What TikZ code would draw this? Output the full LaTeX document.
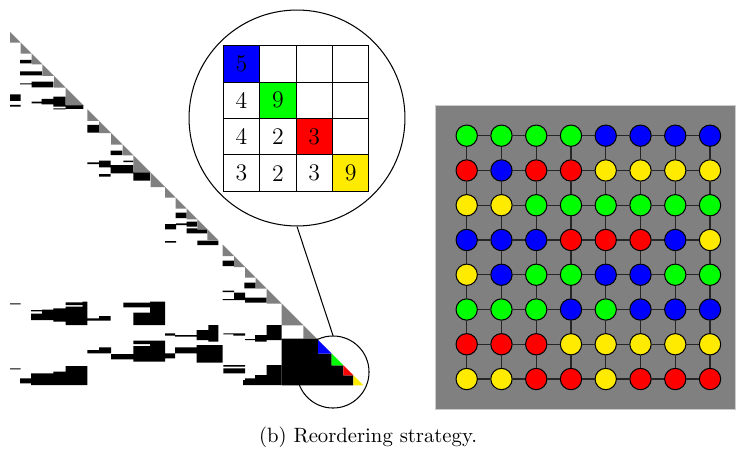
\documentclass[tikz,border=0pt]{standalone}
\definecolor{cG}{RGB}{0,255,0}
\definecolor{cB}{RGB}{0,0,255}
\definecolor{cR}{RGB}{255,0,0}
\definecolor{cY}{RGB}{255,235,0}

\tikzset{
  vtx/.style={circle, draw=black, line width=0.5pt, minimum size=10.3pt, inner sep=0pt},
  edge/.style={line width=0.6pt, black!85},
  cell/.style={draw, line width=0.5pt, minimum size=17.6pt, inner sep=0pt, font=\fontsize{11.5}{13}\selectfont},
  lens/.style={circle, draw, line width=0.5pt, inner sep=0pt},
}

\begin{document}
\begin{tikzpicture}[x=0.483pt, y=-0.483pt]
\useasboundingbox (0,0) rectangle (736,452);

%Draw Sparse Factor
\fill[black] (20,60) rectangle (31.7,63.5) (20,71.5) rectangle (42,75.5)
  (20,83.3) rectangle (31.7,84.3) (31.7,81.7) rectangle (53.3,87.3)
  (10,94.3) rectangle (20.7,101) (10,105) rectangle (20.7,106.7)
  (31.7,101.7) rectangle (41.7,103.3) (41.7,99) rectangle (53.3,104.3)
  (53.3,96.7) rectangle (65.7,106.7) (53.3,108.3) rectangle (65.7,109.3)
  (65.7,105) rectangle (83.3,109) (87.3,125) rectangle (99,132.7)
  (110.7,150.7) rectangle (122.3,155) (87.3,162.3) rectangle (99,164)
  (99,160.7) rectangle (110.7,167.3) (123.3,160.7) rectangle (133.3,162)
  (110.7,165) rectangle (133.3,173.3) (99,174) rectangle (110.7,176.7)
  (133.3,171.7) rectangle (150,180.7) (175.7,212.7) rectangle (186.7,218)
  (165,224) rectangle (176,229.3) (176,223.3) rectangle (186.7,225)
  (186.7,221.7) rectangle (197.3,226.7) (186.7,228.3) rectangle (197.3,233.3)
  (197.3,229.3) rectangle (207.3,233.3) (165,241) rectangle (176,242.7)
  (197.3,240.7) rectangle (218.3,245) (222.7,260.7) rectangle (234,266)
  (244.3,282.7) rectangle (255.7,288.3) (222.7,290.7) rectangle (234,292)
  (222.7,299) rectangle (234,300) (234,292.7) rectangle (245,300)
  (245,297.7) rectangle (266.7,302.7);
\fill[black] (10,303.3) rectangle (20.7,304.3) (65.7,302.3) rectangle (87.3,305)
  (82.7,301.7) rectangle (87.3,325) (31,313.5) rectangle (53.3,320)
  (31,310) rectangle (42,311.3) (42,309.5) rectangle (53.3,313.5)
  (53.3,308.3) rectangle (65.7,321.7) (65.7,306.7) rectangle (87.3,325)
  (87.3,318.3) rectangle (99,320.7) (99,316) rectangle (110.7,320.7)
  (123.3,302.7) rectangle (150,307.3) (150,301.7) rectangle (165,325)
  (133.3,312.7) rectangle (150,325) (165,333.3) rectangle (175,335.7)
  (175,335) rectangle (196.7,336.7) (133.3,340.7) rectangle (155,344)
  (133.3,346) rectangle (165,361.7) (111,354) rectangle (133.3,359.3)
  (99,347.3) rectangle (111,353.3) (87.3,350) rectangle (99,353.3)
  (150,340.7) rectangle (165,361.7) (165,353.3) rectangle (175,358.3)
  (175,347.3) rectangle (196.7,353.3) (196.7,330) rectangle (218.3,340)
  (208.3,325) rectangle (218.3,341.7) (196.7,345) rectangle (222.7,362.7)
  (10,368.3) rectangle (20.7,369.3) (20,378.3) rectangle (31,383.3)
  (31,373.3) rectangle (53.3,385) (53.3,371.7) rectangle (65.7,385)
  (65.7,366) rectangle (87.3,385) (223.3,333.3) rectangle (233.3,334.3)
  (233.3,333.3) rectangle (245,335.7) (245,339) rectangle (255,340)
  (255,335) rectangle (266.7,341.7) (266.7,325) rectangle (281.7,340)
  (223.3,365) rectangle (245,366.7) (223.3,368.3) rectangle (245,373.3)
  (266.7,365) rectangle (281.7,375) (245,378.3) rectangle (266.7,385)
  (255,375) rectangle (281.7,385) (243,380) rectangle (245,385);

%Draw Diagonal Blocks
\foreach \a/\b in {10/20.7,20.7/31.7,31.7/42.3,42.3/54,54/65.7,65.7/83.3,
  87.3/99,99/111,111/122.5,122.5/133.3,133.3/150.5,150.5/165,165/175.7,
  175.7/186.7,186.7/197.3,197.3/207.3,207.3/218.3,222.7/234,234/245,
  245/255.7,255.7/266.7,266.7/281.7,281.7/303.3,303.3/316.7}
  \fill[gray] (\a,\a+22) -- (\b,\b+22) -- (\a,\b+22) -- cycle;

%Draw Last Supernode
\fill[black] (281.7,338.7) -- (318,338.7) -- (318,353.7) -- (331.7,353.7)
  -- (331.7,365.3) -- (343.3,365.3) -- (343.3,375.3) -- (353.3,375.3)
  -- (353.3,385.3) -- (281.7,385.3) -- cycle;
\foreach \a/\b/\f in {318/331.7/cB,331.7/343.3/cG,343.3/353.3/cR,353.3/363.3/cY}
  \fill[\f] (\a,\a+22) -- (\b,\b+22) -- (\a,\b+22) -- cycle;

%Draw Lens
\node[lens, fill=white, minimum size=104.3pt] (big) at (297,118) {};
\foreach \rw/\col/\t/\f in {1/1/5/cB,1/2/{}/white,1/3/{}/white,1/4/{}/white,
  2/1/4/white,2/2/9/cG,2/3/{}/white,2/4/{}/white,
  3/1/4/white,3/2/2/white,3/3/3/cR,3/4/{}/white,
  4/1/3/white,4/2/2/white,4/3/3/white,4/4/9/cY}
  \node[cell, fill=\f] (m-\rw-\col) at ({223.3+36.4*(\col-0.5)},{45.7+36.4*(\rw-0.5)}) {\t};
\node[lens, minimum size=34.8pt] (small) at (333,372) {};
\draw[line width=0.5pt] (big.south) -- (small.north);

%Draw Colored Grid
\fill[gray, draw=black!20] (435.5,105) rectangle (735.5,409);
\foreach \row [count=\i] in {{G,G,G,G,B,B,B,B},{R,B,R,R,Y,Y,Y,Y},
  {Y,Y,G,G,G,G,G,G},{B,B,B,R,R,R,B,Y},{Y,B,G,G,B,B,G,G},
  {G,G,G,B,G,B,B,B},{R,R,R,Y,Y,Y,Y,Y},{Y,Y,R,R,Y,R,R,R}} {
  \foreach \c [count=\j] in \row {
    \node[vtx, fill=c\c] (c-\i-\j) at ({466.7+34.76*(\j-1)},{135.7+34.76*(\i-1)}) {};
  }
}
\foreach \i in {1,...,8} {
  \foreach \j [evaluate=\j as \k using int(\j+1)] in {1,...,7} {
    \draw[edge] (c-\i-\j) -- (c-\i-\k);
    \draw[edge] (c-\j-\i) -- (c-\k-\i);
  }
}

%Draw Caption
\node (caption) at (368,437) {(b) Reordering strategy.};

\end{tikzpicture}
\end{document}
